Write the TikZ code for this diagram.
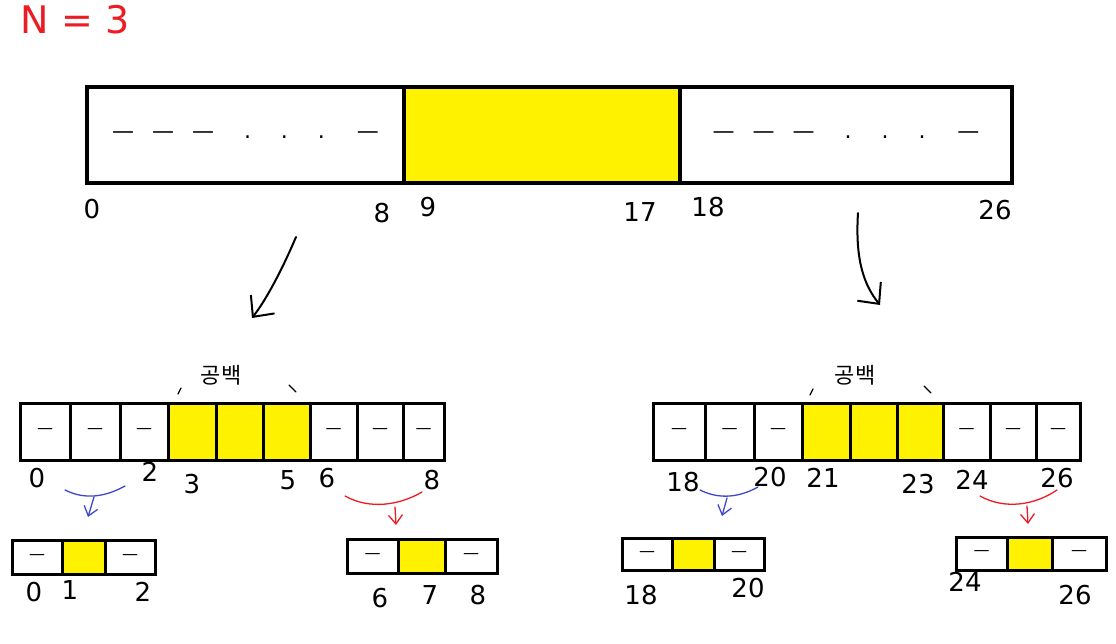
\documentclass[tikz,border=0pt]{standalone}
\usepackage{fontspec}
\setmainfont{DejaVu Sans}
\newfontfamily\krfont{Noto Sans CJK KR}
\usetikzlibrary{arrows.meta,positioning}

\definecolor{hl}{RGB}{255,242,0}
\definecolor{penred}{RGB}{237,28,36}
\definecolor{penblue}{RGB}{63,72,204}

\tikzset{
    cell/.style={draw=black, line width=3pt, fill=white, inner sep=0pt,
        font=\fontsize{16}{16}\selectfont},
    hole/.style={cell, fill=hl},
    num/.style={font=\fontsize{26}{26}\selectfont, inner sep=0pt},
    pen/.style={line width=2pt, line cap=round},
    split/.style={pen, -{Straight Barb[length=9pt,width=14pt]}}
}
\newcommand\blanks{—\hspace{18pt}—\hspace{18pt}—\hspace{30pt}.\hspace{30pt}.\hspace{30pt}.\hspace{32pt}—}

\begin{document}
\begin{tikzpicture}[x=1pt, y=-1pt]
    \useasboundingbox (0,0) rectangle (1116,644);

    \node (n) [text=penred, font=\fontsize{38}{38}\selectfont, inner sep=0pt] at (75,20) {N = 3};

    % whole array
    \foreach \a/\b/\s/\t [count=\i] in {87/404/cell/{\blanks}, 404/680/hole/{}, 680/1012/cell/{\blanks}}
        \node (top\i) [\s, line width=4pt, font=\fontsize{22}{22}\selectfont,
            minimum width={(\b-\a)*1pt}, minimum height=96pt]
            at ({(\a+\b)/2},135) {\t};
    \node [num] at (92,209) {0};
    \node [num] at (382,213) {8};
    \node [num] at (428,207) {9};
    \node [num] at (640,212) {17};
    \node [num] at (708,207) {18};
    \node [num] at (995,210) {26};

    % first split
    \coordinate (la) at (296,237);
    \coordinate (lb) at (252,318);
    \coordinate (ra) at (858,213);
    \coordinate (rb) at (880,305);
    \draw [split, -{Straight Barb[length=16pt,width=30pt]}] (la) .. controls (282,270) and (266,300) .. (lb);
    \draw [split, -{Straight Barb[length=16pt,width=30pt]}] (ra) .. controls (855,260) and (864,285) .. (rb);

    % left part 0..8
    \foreach \a/\b/\s [count=\i] in {20/70/cell,70/120/cell,120/168/cell,168/216/hole,216/263/hole,
                                      263/310/hole,310/357/cell,357/403/cell,403/444/cell}
        \node (lmid\i) [\s, minimum width={(\b-\a)*1pt}, minimum height=57pt]
            at ({(\a+\b)/2},431.5) {\ifnum\i>3 \ifnum\i<7 \else —\fi\else —\fi};
    \node [font=\krfont\fontsize{22}{22}\selectfont] at (221,375) {공백};
    \draw [pen, line width=1.2pt] (178,394) -- (181,388);
    \draw [pen, line width=1.2pt] (289,385) -- (296,392);
    \node [num] at (37,478) {0};
    \node [num] at (150,472) {2};
    \node [num] at (192,484) {3};
    \node [num] at (288,480) {5};
    \node [num] at (327,478) {6};
    \node [num] at (432,480) {8};

    % right part 18..26
    \foreach \a/\b/\s [count=\i] in {653/705/cell,705/754/cell,754/802/cell,802/850/hole,850/897/hole,
                                      897/943/hole,943/990/cell,990/1036/cell,1036/1080/cell}
        \node (rmid\i) [\s, minimum width={(\b-\a)*1pt}, minimum height=57pt]
            at ({(\a+\b)/2},431.5) {\ifnum\i>3 \ifnum\i<7 \else —\fi\else —\fi};
    \node [font=\krfont\fontsize{22}{22}\selectfont] at (855,375) {공백};
    \draw [pen, line width=1.2pt] (810,395) -- (813,389);
    \draw [pen, line width=1.2pt] (924,386) -- (931,393);
    \node [num] at (683,482) {18};
    \node [num] at (770,477) {20};
    \node [num] at (823,478) {21};
    \node [num] at (918,484) {23};
    \node [num] at (972,480) {24};
    \node [num] at (1057,478) {26};

    % second split, blue = left third, red = right third
    \draw [pen, penblue, line width=1.3pt] (65,490) .. controls (85,500) and (105,497) .. (125,486);
    \draw [split, penblue, line width=1.3pt] (94,497) -- (88,517);
    \draw [pen, penred, line width=1.3pt] (345,496) .. controls (370,510) and (400,505) .. (422,492);
    \draw [split, penred, line width=1.3pt] (395,507) -- (396,525);
    \draw [pen, penblue, line width=1.3pt] (700,490) .. controls (720,500) and (740,497) .. (758,487);
    \draw [split, penblue, line width=1.3pt] (727,498) -- (722,516);
    \draw [pen, penred, line width=1.3pt] (980,496) .. controls (1005,510) and (1035,505) .. (1057,490);
    \draw [split, penred, line width=1.3pt] (1027,506) -- (1028,524);

    % smallest parts
    \foreach \a/\b/\s [count=\i] in {12/62/cell,62/105/hole,105/155/cell}
        \node (la\i) [\s, minimum width={(\b-\a)*1pt}, minimum height=34pt]
            at ({(\a+\b)/2},557) {\ifnum\i=2 \else —\fi};
    \foreach \a/\b/\s [count=\i] in {347/398/cell,398/445/hole,445/497/cell}
        \node (lb\i) [\s, minimum width={(\b-\a)*1pt}, minimum height=34pt]
            at ({(\a+\b)/2},556) {\ifnum\i=2 \else —\fi};
    \foreach \a/\b/\s [count=\i] in {622/672/cell,672/714/hole,714/764/cell}
        \node (ra\i) [\s, minimum width={(\b-\a)*1pt}, minimum height=32pt]
            at ({(\a+\b)/2},554) {\ifnum\i=2 \else —\fi};
    \foreach \a/\b/\s [count=\i] in {956/1007/cell,1007/1052/hole,1052/1106/cell}
        \node (rb\i) [\s, minimum width={(\b-\a)*1pt}, minimum height=33pt]
            at ({(\a+\b)/2},553.5) {\ifnum\i=2 \else —\fi};
    \node [num] at (34,592) {0};
    \node [num] at (70,590) {1};
    \node [num] at (143,592) {2};
    \node [num] at (380,598) {6};
    \node [num] at (430,595) {7};
    \node [num] at (478,595) {8};
    \node [num] at (641,595) {18};
    \node [num] at (748,588) {20};
    \node [num] at (965,582) {24};
    \node [num] at (1075,595) {26};
\end{tikzpicture}
\end{document}
